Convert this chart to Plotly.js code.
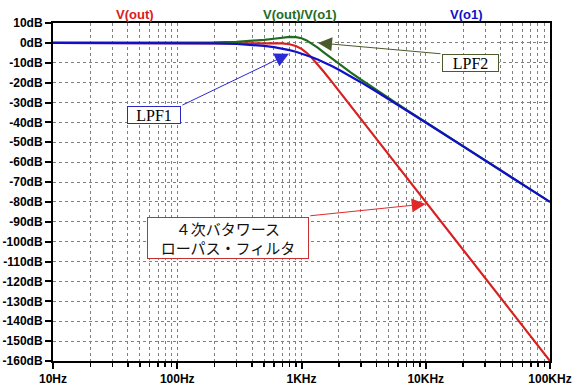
<!DOCTYPE html>
<html>
<head>
<meta charset="utf-8">
<script src="https://cdn.plot.ly/plotly-3.0.1.min.js"></script>
<style>html,body{margin:0;padding:0;background:#fff;}#chart{width:578px;height:388px;}</style>
</head>
<body>
<div id="chart"></div>
<script>
// Frequencies (Hz)
const freqs = [10, 20, 50, 100, 150, 200, 300, 400, 500, 600, 700, 800, 900, 1000, 1100, 1200, 1350, 1500, 1750, 2000, 2500, 3000, 4000, 5000, 7000, 10000, 20000, 50000, 100000];
// V(out) : 4th order Butterworth LPF (dB)
const vOut = [0, 0, 0, 0, 0, 0, 0, -0.003, -0.017, -0.072, -0.243, -0.674, -1.555, -3.01, -4.974, -7.243, -10.804, -14.254, -19.49, -24.10, -31.84, -38.17, -48.16, -55.92, -67.61, -80.0, -104.08, -135.92, -160.0];
// V(out)/V(o1) : LPF2 (dB)
const vRatio = [0, 0.002, 0.015, 0.061, 0.138, 0.245, 0.551, 0.973, 1.494, 2.072, 2.619, 2.972, 2.919, 2.323, 1.233, -0.159, -2.416, -4.595, -7.816, -10.547, -14.945, -18.406, -23.699, -27.713, -33.679, -39.939, -52.026, -67.956, -80.0];
// V(o1) : LPF1 (dB)
const vO1 = [0, -0.002, -0.015, -0.061, -0.138, -0.246, -0.551, -0.976, -1.511, -2.145, -2.863, -3.645, -4.474, -5.333, -6.207, -7.084, -8.388, -9.659, -11.677, -13.552, -16.893, -19.765, -24.466, -28.204, -33.929, -40.061, -52.057, -67.961, -80.0];

const xMajorVals = [10, 100, 1000, 10000, 100000];
const xMajorText = ['10Hz', '100Hz', '1KHz', '10KHz', '100KHz'];
const xMinorVals = [20,30,40,50,60,70,80,90,200,300,400,500,600,700,800,900,2000,3000,4000,5000,6000,7000,8000,9000,20000,30000,40000,50000,60000,70000,80000,90000];
const yVals = [10,0,-10,-20,-30,-40,-50,-60,-70,-80,-90,-100,-110,-120,-130,-140,-150,-160];
const yText = yVals.map(v => (v < 0 ? '-' + Math.abs(v) : String(v)) + 'dB');

const traceNames = ['V(out)', 'V(out)/V(o1)', 'V(o1)'];
const colRed = '#d92020', colGreen = '#1f6b1f', colBlue = '#1010c8';

const traces = [
  {x: freqs, y: vOut, name: traceNames[0], mode: 'lines', line: {color: colRed, width: 2.2}},
  {x: freqs, y: vRatio, name: traceNames[1], mode: 'lines', line: {color: colGreen, width: 2.2}},
  {x: freqs, y: vO1, name: traceNames[2], mode: 'lines', line: {color: colBlue, width: 2.2}}
];

const tickFont = {family: 'Liberation Sans, Arial, sans-serif', size: 12, color: '#000', weight: 700};
const gridCol = '#808080';

const layout = {
  width: 578, height: 388,
  margin: {l: 53, r: 28, t: 23, b: 27, pad: 0},
  paper_bgcolor: '#fff', plot_bgcolor: '#fff',
  showlegend: false,
  xaxis: {
    type: 'log', range: [1, 5],
    tickmode: 'array', tickvals: xMajorVals, ticktext: xMajorText,
    ticks: 'outside', ticklen: 6, tickwidth: 2, tickcolor: '#000',
    showgrid: true, gridcolor: gridCol, gridwidth: 1, griddash: '3px,3px',
    showline: true, mirror: true, linecolor: '#000', linewidth: 2,
    zeroline: false, tickfont: tickFont, fixedrange: true,
    minor: {tickmode: 'array', tickvals: xMinorVals, ticks: 'outside', ticklen: 4, tickwidth: 1.5, tickcolor: '#000',
            showgrid: true, gridcolor: gridCol, gridwidth: 1, griddash: '3px,3px'}
  },
  yaxis: {
    range: [-160, 10],
    tickmode: 'array', tickvals: yVals, ticktext: yText,
    ticks: 'outside', ticklen: 6, tickwidth: 2, tickcolor: '#000',
    showgrid: true, gridcolor: gridCol, gridwidth: 1, griddash: '3px,3px',
    showline: true, mirror: true, linecolor: '#000', linewidth: 2,
    zeroline: false, tickfont: tickFont, fixedrange: true
  },
  annotations: [
    {xref: 'paper', yref: 'paper', x: 0.1656, y: 1.0266, yanchor: 'middle', xanchor: 'center', text: traceNames[0], showarrow: false,
     font: {family: 'Liberation Sans, Arial, sans-serif', size: 13, color: colRed, weight: 700}},
    {xref: 'paper', yref: 'paper', x: 0.497, y: 1.0266, yanchor: 'middle', xanchor: 'center', text: traceNames[1], showarrow: false,
     font: {family: 'Liberation Sans, Arial, sans-serif', size: 13, color: colGreen, weight: 700}},
    {xref: 'paper', yref: 'paper', x: 0.831, y: 1.0266, yanchor: 'middle', xanchor: 'center', text: traceNames[2], showarrow: false,
     font: {family: 'Liberation Sans, Arial, sans-serif', size: 13, color: colBlue, weight: 700}},
    // arrows
    {x: Math.log10(792), y: -5.5, text: '', showarrow: true, ax: -108, ay: 52,
     arrowcolor: '#2a2ad8', arrowwidth: 1, arrowhead: 2, arrowsize: 2.8, standoff: 0},
    {x: Math.log10(1358), y: 0, text: '', showarrow: true, ax: 124, ay: 11,
     arrowcolor: '#4a5a2a', arrowwidth: 1, arrowhead: 2, arrowsize: 2.8, standoff: 0},
    {x: 4.0, y: -81, text: '', showarrow: true, ax: -117, ay: 12,
     arrowcolor: '#e02a2a', arrowwidth: 1, arrowhead: 2, arrowsize: 2.8, standoff: 0},
    // boxes
    {x: Math.log10(65), y: -36.5, text: 'LPF1', showarrow: false, width: 52, height: 16, borderpad: 0,
     bordercolor: '#2a2ac0', borderwidth: 1, bgcolor: '#fff',
     font: {family: 'Liberation Serif, Times New Roman, serif', size: 16, color: '#000'}},
    {x: Math.log10(22900), y: -10.06, text: 'LPF2', showarrow: false, width: 55, height: 16, borderpad: 0,
     bordercolor: '#4a5a2a', borderwidth: 1, bgcolor: '#fff',
     font: {family: 'Liberation Serif, Times New Roman, serif', size: 16, color: '#000'}},
    {x: Math.log10(256), y: -98.1, text: '４次バタワース<br>ローパス・フィルタ', showarrow: false, width: 160, height: 40, borderpad: 0,
     bordercolor: '#c83030', borderwidth: 1, bgcolor: '#fff',
     font: {family: 'Noto Sans CJK JP, sans-serif', size: 15, color: '#111'}}
  ]
};

Plotly.newPlot('chart', traces, layout, {displayModeBar: false, staticPlot: true});
</script>
</body>
</html>
